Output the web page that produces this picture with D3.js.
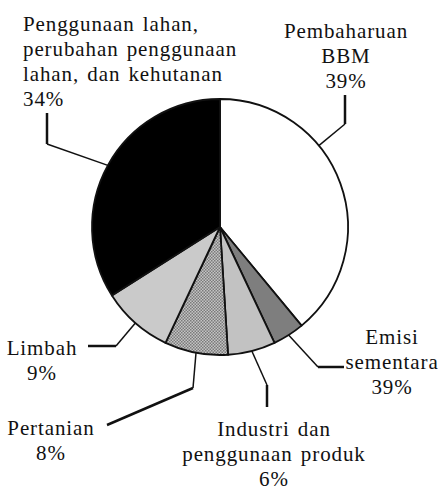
<!DOCTYPE html>
<html>
<head>
<meta charset="utf-8">
<script src="https://cdn.jsdelivr.net/npm/d3@7"></script>
<style>
  body { margin: 0; background: #fff; }
  svg { display: block; }
</style>
</head>
<body>
<svg id="chart" width="440" height="491"></svg>
<script>
// sectors, clockwise from 12 o'clock
const categories = ["Pembaharuan BBM", "Emisi sementara", "Industri dan penggunaan produk",
                    "Pertanian", "Limbah", "Penggunaan lahan, perubahan penggunaan lahan, dan kehutanan"];
const values = [39, 4, 6, 8, 9, 34];
// percentages as printed in the figure
const valueLabels = ["39%", "39%", "6%", "8%", "9%", "34%"];
const labelLines = [
  ["Pembaharuan", "BBM"],
  ["Emisi", "sementara"],
  ["Industri dan", "penggunaan produk"],
  ["Pertanian"],
  ["Limbah"],
  ["Penggunaan lahan,", "perubahan penggunaan", "lahan, dan kehutanan"]
];
const fills = ["#ffffff", "#7e7e7e", "#c2c2c2", "url(#dots)", "#cacaca", "#000000"];

// label placement: text anchor point, leader elbow + end, where on the slice the leader touches
const layout = [
  {x: 346, y: 38, anchor: "middle", at: 0.36, leader: [[345, 124], [345, 95]]},
  {x: 392, y: 344, anchor: "middle", at: 0.5, leader: [[318, 367], [344, 367]]},
  {x: 274, y: 436, anchor: "middle", at: 0.5, leader: [[267, 385], [267, 407]]},
  {x: 51, y: 435, anchor: "middle", at: 0.5, leader: [[193, 388], [107, 425]]},
  {x: 42, y: 355, anchor: "middle", at: 0.5, leader: [[116, 346], [88, 346]]},
  {x: 23, y: 31, anchor: "start", at: 0.5, leader: [[47, 144], [47, 113]]}
];

const cx = 220, cy = 227, radius = 128;
const lineH = 25;

const svg = d3.select("#chart");

const defs = svg.append("defs");
const pat = defs.append("pattern").attr("id", "dots")
  .attr("patternUnits", "userSpaceOnUse").attr("width", 3).attr("height", 3);
pat.append("rect").attr("width", 3).attr("height", 3).attr("fill", "#c4c4c4");
pat.append("rect").attr("width", 1.5).attr("height", 1.5).attr("fill", "#7a7a7a");
pat.append("rect").attr("x", 1.5).attr("y", 1.5).attr("width", 1.5).attr("height", 1.5).attr("fill", "#7a7a7a");

const pie = d3.pie().sort(null).value(d => d);
const arcs = pie(values);
const arc = d3.arc().innerRadius(0).outerRadius(radius);

const g = svg.append("g").attr("transform", "translate(" + cx + "," + cy + ")");

g.selectAll("path")
  .data(arcs)
  .enter().append("path")
  .attr("d", arc)
  .attr("fill", (d, i) => fills[i])
  .attr("stroke", "#111")
  .attr("stroke-width", 1.8)
  .attr("stroke-linejoin", "round");

// leader lines
arcs.forEach((a, i) => {
  const L = layout[i];
  const ang = a.startAngle + (a.endAngle - a.startAngle) * L.at;
  const p0 = [cx + radius * Math.sin(ang), cy - radius * Math.cos(ang)];
  const p1 = L.leader[0], p2 = L.leader[1];
  svg.append("line")
    .attr("x1", p0[0]).attr("y1", p0[1]).attr("x2", p1[0]).attr("y2", p1[1])
    .attr("stroke", "#111").attr("stroke-width", 1.5);
  svg.append("line")
    .attr("x1", p1[0]).attr("y1", p1[1]).attr("x2", p2[0]).attr("y2", p2[1])
    .attr("stroke", "#111").attr("stroke-width", 2.5);
});

// labels, one <text> per line
layout.forEach((L, i) => {
  const lines = labelLines[i].concat([valueLabels[i]]);
  lines.forEach((s, j) => {
    svg.append("text")
      .attr("x", L.x)
      .attr("y", L.y + j * lineH)
      .attr("font-family", "Liberation Serif")
      .attr("font-size", 21)
      .attr("letter-spacing", 0.9)
      .attr("word-spacing", 2)
      .attr("fill", "#111")
      .attr("text-anchor", L.anchor)
      .text(s);
  });
});
</script>
</body>
</html>
